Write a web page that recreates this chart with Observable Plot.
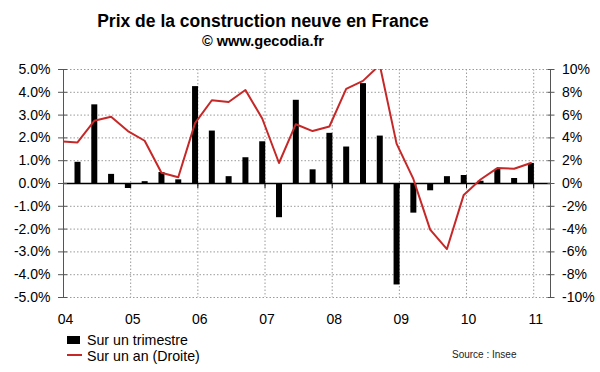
<!DOCTYPE html>
<html><head><meta charset="utf-8">
<script src="https://cdn.jsdelivr.net/npm/d3@7"></script>
<script src="https://cdn.jsdelivr.net/npm/@observablehq/plot@0.6"></script>
<style>
body{margin:0;background:#fff;font-family:"Liberation Sans",Arial,sans-serif;}
#wrap{position:relative;width:600px;height:372px;overflow:hidden;background:#fff;color:#000;}
.abs{position:absolute;white-space:nowrap;}
</style></head><body>
<div id="wrap">
  <div class="abs" style="left:0;width:526px;text-align:center;top:10.6px;font-size:17.5px;line-height:20px;font-weight:bold;">Prix de la construction neuve en France</div>
  <div class="abs" style="left:0;width:526px;text-align:center;top:32px;font-size:14.6px;line-height:18px;font-weight:bold;">© www.gecodia.fr</div>
  <div id="chart" class="abs" style="left:0;top:50px;"></div>
  <div class="abs" style="left:67px;top:336px;width:13px;height:8px;background:#000;"></div>
  <div class="abs" style="left:87px;top:333px;font-size:14.2px;line-height:14px;">Sur un trimestre</div>
  <div class="abs" style="left:67px;top:354px;width:15px;height:2px;background:#c62828;"></div>
  <div class="abs" style="left:87px;top:349px;font-size:14.2px;line-height:14px;">Sur un an (Droite)</div>
  <div class="abs" style="left:452px;top:349px;font-size:10px;line-height:12px;font-family:'Liberation Sans Narrow','Liberation Sans',Arial,sans-serif;color:#222;">Source : Insee</div>
</div>
<script>
// Categories (quarters); first entry only carries the yearly line
const quarters = ["2003 T4",
  "2004 T1","2004 T2","2004 T3","2004 T4",
  "2005 T1","2005 T2","2005 T3","2005 T4",
  "2006 T1","2006 T2","2006 T3","2006 T4",
  "2007 T1","2007 T2","2007 T3","2007 T4",
  "2008 T1","2008 T2","2008 T3","2008 T4",
  "2009 T1","2009 T2","2009 T3","2009 T4",
  "2010 T1","2010 T2","2010 T3","2010 T4"];
// Sur un trimestre (left axis, %)
const surUnTrimestre = [null,
  0.93, 3.45, 0.40, -0.22,
  0.08, 0.48, 0.16, 4.25,
  2.30, 0.30, 1.13, 1.83,
  -1.50, 3.65, 0.60, 2.20,
  1.60, 4.38, 2.08, -4.45,
  -1.30, -0.32, 0.30, 0.35,
  0.10, 0.62, 0.22, 0.88];
// Sur un an (right axis, %)
const surUnAn = [3.7,
  3.6, 5.5, 5.85, 4.6,
  3.75, 0.95, 0.55, 5.3,
  7.3, 7.15, 8.2, 5.7,
  1.8, 5.2, 4.6, 5.0,
  8.3, 9.0, 10.4, 3.5,
  0.4, -4.05, -5.75, -1.0,
  0.35, 1.35, 1.3, 1.8];
const yearTicks = [2004, 2005, 2006, 2007, 2008, 2009, 2010, 2011];
const yearLabels = ["04", "05", "06", "07", "08", "09", "10", "11"];
const leftTicks = [-5, -4, -3, -2, -1, 0, 1, 2, 3, 4, 5];
const xDomain = [2004, 2011.25];
const yDomain = [-5, 5];

const data = quarters.map((q, i) => {
  const [yr, t] = q.split(" T");
  return {q, t: +yr + (3 * (+t) - 0.5) / 12, trim: surUnTrimestre[i], an: surUnAn[i]};
});

const tickSym = {draw(ctx) { ctx.moveTo(0, 0); ctx.lineTo(0, 4.5); }};
const grid = {stroke: "#9a9a9a", strokeDasharray: "1.5,2", strokeWidth: 1};

const chart = Plot.plot({
  width: 600, height: 282,
  marginLeft: 63, marginRight: 50, marginTop: 19, marginBottom: 35,
  style: {fontFamily: "'Liberation Sans', Arial, sans-serif", fontSize: "14px", color: "#000", background: "transparent"},
  x: {domain: xDomain, label: null},
  y: {domain: yDomain, label: null},
  marks: [
    Plot.ruleY(leftTicks, grid),
    Plot.ruleX(yearTicks.slice(1), grid),
    Plot.ruleX(data.filter(d => d.trim != null), {x: "t", y1: 0, y2: "trim", stroke: "#000", strokeWidth: 6}),
    Plot.ruleY([0], {stroke: "#000", strokeWidth: 1.3}),
    Plot.dot(yearTicks, {x: d => d, y: 0, symbol: tickSym, fill: "none", stroke: "#000", strokeWidth: 1}),
    Plot.line(data, {x: "t", y: d => d.an / 2, stroke: "#c62828", strokeWidth: 2, clip: true}),
    Plot.ruleX(xDomain, {stroke: "#555", strokeWidth: 1}),
    Plot.axisY({anchor: "left", label: null, ticks: leftTicks, tickFormat: d => d.toFixed(1) + "%", tickSize: 9, dx: 4, tickPadding: 8, stroke: "#555", fill: "#000", fontSize: 14}),
    Plot.axisY({anchor: "right", label: null, ticks: leftTicks, tickFormat: d => (2 * d).toFixed(0) + "%", tickSize: 7, dx: -3.5, tickPadding: 8, stroke: "#555", fill: "#000", fontSize: 14}),
    Plot.axisX({label: null, ticks: yearTicks, tickFormat: (d, i) => yearLabels[i], tickSize: 0, tickPadding: 17, dx: 2, fill: "#000", fontSize: 14})
  ]
});
document.getElementById("chart").appendChild(chart);
</script>
</body></html>
